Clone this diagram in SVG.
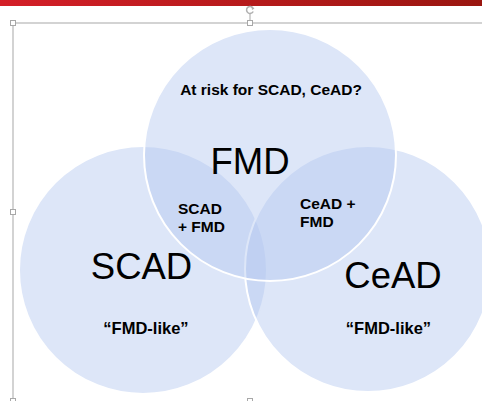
<svg xmlns="http://www.w3.org/2000/svg" width="482" height="401" viewBox="0 0 482 401">
  <defs>
    <linearGradient id="bar" x1="0" y1="0" x2="1" y2="0">
      <stop offset="0" stop-color="#d41f28"/>
      <stop offset="1" stop-color="#9a1610"/>
    </linearGradient>
  </defs>
  <style>
    .c { fill: rgb(180,200,240); fill-opacity: 0.45; stroke: #ffffff; stroke-width: 2; }
    .big { font-family: "Liberation Sans", Arial, sans-serif; font-size: 36.5px; fill: #000; text-anchor: middle; }
    .b { font-family: "Liberation Sans", Arial, sans-serif; font-size: 15.5px; font-weight: bold; fill: #000; }
    .q { font-size: 16.5px; }
    .frame { stroke: #c4c4c4; stroke-width: 1.5; fill: none; }
    .h { fill: #ffffff; stroke: #a8a8a8; stroke-width: 1; }
  </style>
  <rect x="0" y="0" width="482" height="401" fill="#ffffff"/>
  <rect x="0" y="0" width="482" height="6" fill="url(#bar)"/>

  <g id="frame">
    <line class="frame" x1="13" y1="23" x2="482" y2="23"/>
    <line class="frame" x1="13" y1="23" x2="13" y2="401"/>
    <line class="frame" x1="250" y1="14" x2="250" y2="23"/>
    <path d="M253.2 11.5 A3.5 3.5 0 1 1 253 8" fill="none" stroke="#b0b0b0" stroke-width="1.5"/>
    <path d="M251.5 6.5 L254.5 8.5 L252 10 Z" fill="#b0b0b0"/>
    <rect class="h" x="10.5" y="20.5" width="5" height="5"/>
    <rect class="h" x="247.5" y="20.5" width="5" height="5"/>
    <rect class="h" x="10.5" y="209.5" width="5" height="5"/>
    <rect class="h" x="10.5" y="398.5" width="5" height="5"/>
    <rect class="h" x="247.5" y="398.5" width="5" height="5"/>
  </g>

  <g id="connectors"></g>

  <g id="scad">
    <circle class="c" cx="143" cy="270" r="124"/>
  </g>
  <g id="cead">
    <circle class="c" cx="368" cy="269" r="123"/>
  </g>
  <g id="fmd">
    <circle class="c" cx="270" cy="155" r="126"/>
  </g>

  <g id="labels">
    <text class="b" x="271" y="95" text-anchor="middle">At risk for SCAD, CeAD?</text>
    <text class="big" x="250" y="174">FMD</text>
    <text class="big" x="141.5" y="279">SCAD</text>
    <text class="big" x="393" y="288">CeAD</text>
    <text class="b q" x="146" y="334" text-anchor="middle">“FMD-like”</text>
    <text class="b q" x="388.5" y="334" text-anchor="middle">“FMD-like”</text>
    <text class="b" x="178" y="214">SCAD</text>
    <text class="b" x="178" y="232">+ FMD</text>
    <text class="b" x="300" y="209">CeAD +</text>
    <text class="b" x="300" y="227">FMD</text>
  </g>
</svg>
